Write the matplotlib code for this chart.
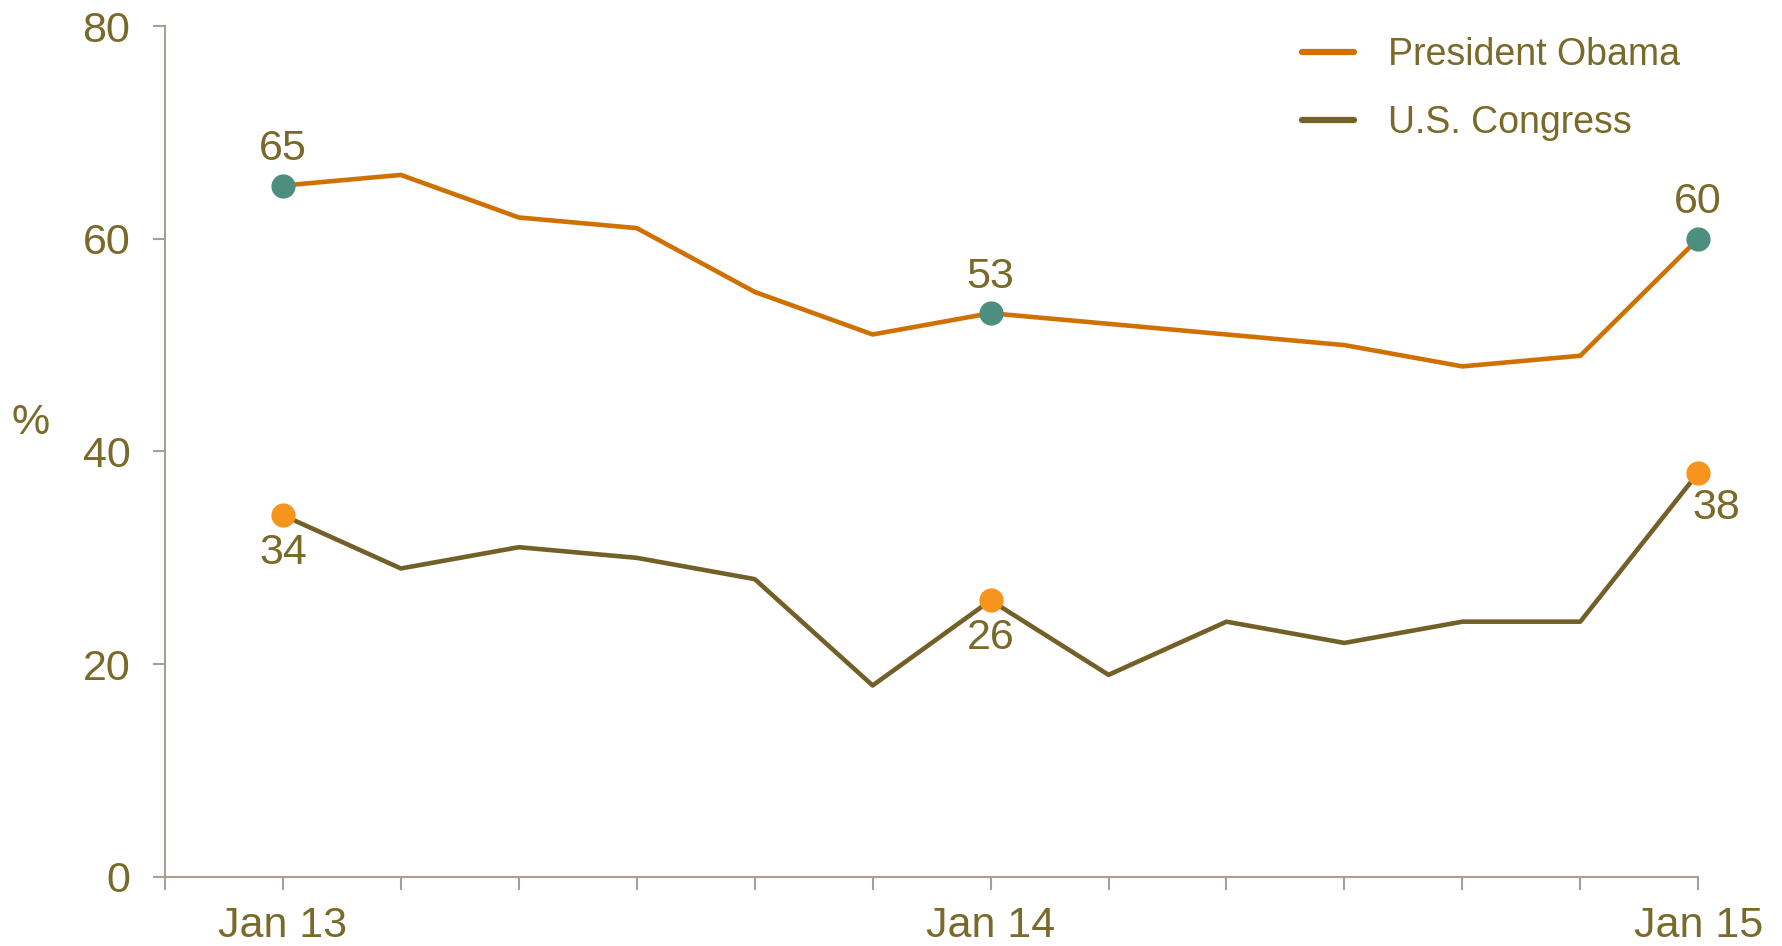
import matplotlib.pyplot as plt

plt.rcParams['font.family'] = ['Liberation Sans', 'DejaVu Sans']

obama = [65, 66, 62, 61, 55, 51, 53, 52, 51, 50, 48, 49, 60]
congress = [34, 29, 31, 30, 28, 18, 26, 19, 24, 22, 24, 24, 38]
tick_labels = {0: 'Jan 13', 6: 'Jan 14', 12: 'Jan 15'}

text_col = '#7a6a2a'
axis_col = '#a89f91'
orange = '#d07000'
olive = '#736029'
teal = '#4e8e7e'
orange_dot = '#f7941d'

x = list(range(len(obama)))

fig = plt.figure(figsize=(17.82, 9.46), dpi=100)
ax = fig.add_axes([0.0926, 0.073, 0.8604, 0.8995])

ax.plot(x, obama, color=orange, lw=3.3, label='President Obama', zorder=3, clip_on=False)
ax.plot(x, congress, color=olive, lw=3.3, label='U.S. Congress', zorder=3, clip_on=False)

key = [0, 6, 12]
ax.scatter([x[i] for i in key], [obama[i] for i in key], s=270, color=teal, zorder=4, clip_on=False)
ax.scatter([x[i] for i in key], [congress[i] for i in key], s=270, color=orange_dot, zorder=4, clip_on=False)

for i in key:
    ax.annotate(str(obama[i]), (x[i], obama[i]), xytext=(0, 12), textcoords='offset points',
                ha='center', va='bottom', fontsize=31, color=text_col)
for i in key[:2]:
    ax.annotate(str(congress[i]), (x[i], congress[i]), xytext=(0, -13), textcoords='offset points',
                ha='center', va='top', fontsize=31, color=text_col)
ax.annotate(str(congress[12]), (x[12], congress[12]), xytext=(13, -11), textcoords='offset points',
            ha='center', va='top', fontsize=31, color=text_col)

ax.set_xlim(-1, 12)
ax.set_ylim(0, 80)
ax.set_yticks([0, 20, 40, 60, 80])
ax.set_xticks(range(-1, 13))
ax.set_xticklabels([tick_labels.get(i, '') for i in range(-1, 13)])

for s in ['top', 'right']:
    ax.spines[s].set_visible(False)
for s in ['left', 'bottom']:
    ax.spines[s].set_color(axis_col)
    ax.spines[s].set_linewidth(1.5)
ax.spines['left'].set_bounds(0, 80)
ax.tick_params(colors=axis_col, width=1.5, length=9, labelsize=31, labelcolor=text_col)
ax.tick_params(axis='y', pad=16)
ax.tick_params(axis='x', pad=12)

ax.set_ylabel('%', rotation=0, fontsize=31, color=text_col)
ax.yaxis.set_label_coords(-0.088, 0.51)

leg = ax.legend(loc='upper right', bbox_to_anchor=(1.01, 1.027), frameon=False, fontsize=27,
                handlelength=1.4, handletextpad=0.9, labelspacing=0.85)
for t in leg.get_texts():
    t.set_color(text_col)
for h in leg.get_lines():
    h.set_linewidth(4.5)
    h.set_solid_capstyle('round')

fig.savefig('out.png', dpi=100)
